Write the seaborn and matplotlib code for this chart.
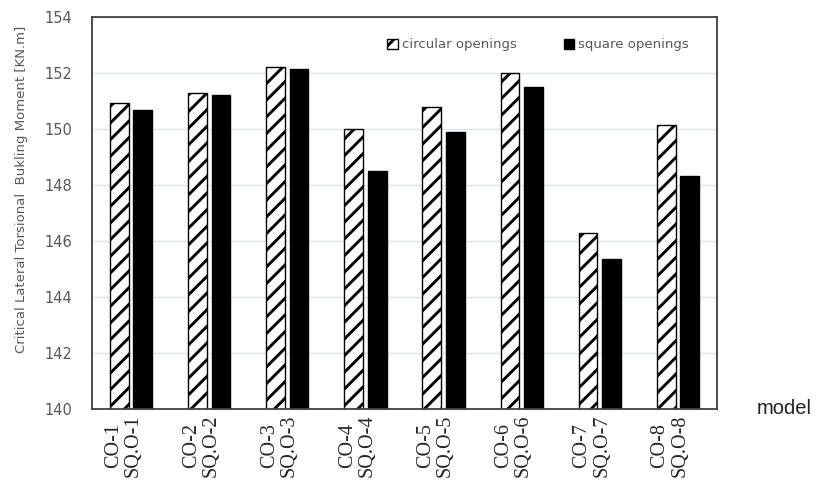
import matplotlib
matplotlib.use("Agg")
import matplotlib.pyplot as plt
import matplotlib.transforms as mtransforms
import pandas as pd
import seaborn as sns

# valores
modelos = ["CO-1\nSQ.O-1", "CO-2\nSQ.O-2", "CO-3\nSQ.O-3", "CO-4\nSQ.O-4",
           "CO-5\nSQ.O-5", "CO-6\nSQ.O-6", "CO-7\nSQ.O-7", "CO-8\nSQ.O-8"]
circular = [150.92, 151.27, 152.2, 150.0, 150.77, 151.98, 146.27, 150.15]
cuadrado = [150.68, 151.2, 152.15, 148.48, 149.9, 151.48, 145.37, 148.3]
series = ["circular openings", "square openings"]

df = pd.DataFrame({
    "model": modelos * 2,
    "valor": circular + cuadrado,
    "tipo": [series[0]] * len(modelos) + [series[1]] * len(modelos),
})

sns.set_style("white")
plt.rcParams["hatch.linewidth"] = 2.1

fig = plt.figure(figsize=(8.16, 4.8), dpi=100)
ax = fig.add_axes([0.1127, 0.148, 0.766, 0.817])

sns.barplot(data=df, x="model", y="valor", hue="tipo", ax=ax,
            palette=["white", "black"], width=0.6, gap=0.2,
            edgecolor="black", linewidth=1.0, errorbar=None)

# rayado para aberturas circulares
for barra in ax.containers[0]:
    barra.set_hatch("//")
    barra.set_facecolor("white")
    barra.set_edgecolor("black")

ax.set_ylim(140, 154)
ax.set_yticks(range(140, 155, 2))
ax.yaxis.grid(True, color="#dde3ea", linewidth=1.0)
ax.set_axisbelow(True)
for s in ax.spines.values():
    s.set_color("#404040")
    s.set_linewidth(1.3)

ax.tick_params(axis="y", colors="#595959", labelsize=10.5, length=0, pad=14)
ax.tick_params(axis="x", length=0, pad=4)
ax.set_xticks(range(len(modelos)))
ax.set_xticklabels(modelos, rotation=90, ha="center", va="top",
                   multialignment="center", family="Liberation Serif",
                   fontsize=14.5, linespacing=1.05)
desplazar = mtransforms.ScaledTranslation(-8 / 100, 0, fig.dpi_scale_trans)
for lbl in ax.get_xticklabels():
    lbl.set_transform(lbl.get_transform() + desplazar)

ax.set_xlabel("")
ax.set_ylabel("Critical Lateral Torsional  Bukling Moment [KN.m]",
              color="#595959", fontsize=9.5, labelpad=10)
ax.yaxis.set_label_coords(-0.103, 0.56)
ax.text(1.064, 0.0, "model", transform=ax.transAxes, fontsize=14.5,
        family="Liberation Sans", color="#222222", va="center", ha="left")

h, l = ax.get_legend_handles_labels()
h[0].set_hatch("//")
leg = ax.legend(h, l, loc="upper left", bbox_to_anchor=(0.453, 0.975), ncol=2,
                frameon=False, fontsize=9.5, handlelength=0.8, handleheight=0.8,
                handletextpad=0.3, columnspacing=3.6)
for t in leg.get_texts():
    t.set_color("#595959")

fig.savefig("out.png", dpi=100)
